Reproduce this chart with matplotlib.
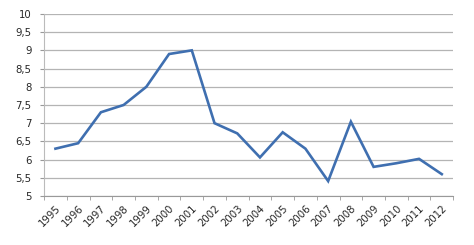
import matplotlib
matplotlib.use("Agg")
import matplotlib.pyplot as plt
import numpy as np

years = [str(y) for y in range(1995, 2013)]
values = [6.3, 6.45, 7.3, 7.5, 8.0, 8.9, 9.0, 7.0, 6.72, 6.06, 6.75, 6.3, 5.41, 7.04, 5.8, 5.9, 6.02, 5.6]
yticks = [5, 5.5, 6, 6.5, 7, 7.5, 8, 8.5, 9, 9.5, 10]
ytick_labels = ["5", "5,5", "6", "6,5", "7", "7,5", "8", "8,5", "9", "9,5", "10"]

fig = plt.figure(figsize=(4.74, 2.45), dpi=100)
ax = fig.add_axes([0.093, 0.2, 0.863, 0.743])
x = np.arange(len(years))
ax.plot(x, values, color="#3f6fb0", lw=1.9, solid_joinstyle="miter")
ax.set_xlim(-0.5, len(years) - 0.5)
ax.set_ylim(5, 10)
ax.set_yticks(yticks)
ax.set_yticklabels(ytick_labels, fontsize=7.3, color="#262626")
ax.set_xticks(x)
ax.set_xticklabels(years, rotation=45, ha="right", rotation_mode="anchor", fontsize=7.3, color="#262626")
ax.set_xticks(np.arange(len(years) + 1) - 0.5, minor=True)
ax.tick_params(axis="x", which="major", length=0, pad=5)
ax.tick_params(axis="x", which="minor", length=3, color="#999999", direction="out")
ax.tick_params(axis="y", length=3, color="#999999", direction="out", pad=6)
ax.grid(axis="y", color="#b4b4b4", lw=0.9)
ax.set_axisbelow(True)
for s in ["top", "right"]:
    ax.spines[s].set_visible(False)
ax.spines["left"].set_color("#bbbbbb")
ax.spines["bottom"].set_color("#999999")
fig.savefig("out.png", dpi=100)
